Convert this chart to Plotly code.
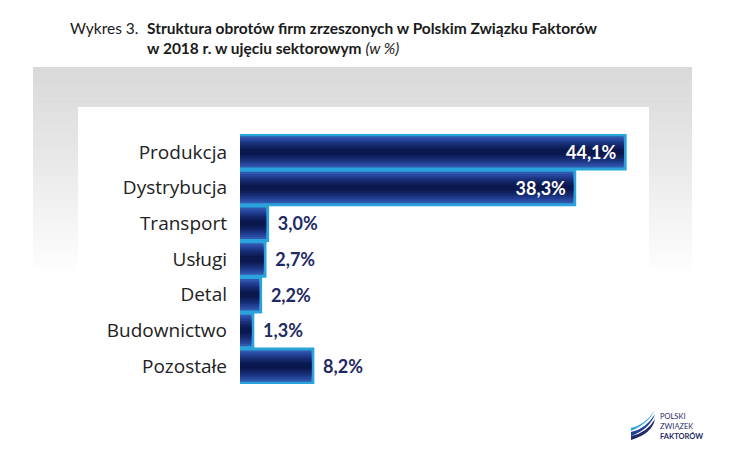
import plotly.graph_objects as go

categories = ["Produkcja", "Dystrybucja", "Transport", "Usługi", "Detal", "Budownictwo", "Pozostałe"]
values = [44.1, 38.3, 3.0, 2.7, 2.2, 1.3, 8.2]
value_labels = ["44,1%", "38,3%", "3,0%", "2,7%", "2,2%", "1,3%", "8,2%"]
inside_flags = [True, True, False, False, False, False, False]

W, H = 739, 469
L, R, T, B = 240, 64, 134, 85
PW, PH = W - L - R, H - T - B

def px(x):
    return (x - L) / PW

def py(y):
    return 1 - (y - T) / PH

def conv_path(path):
    out = []
    nums = []
    for tok in path.split():
        try:
            nums.append(float(tok))
        except ValueError:
            out.append(tok)
            continue
        if len(nums) == 2:
            out.append(f"{px(nums[0]):.5f},{py(nums[1]):.5f}")
            nums = []
    return " ".join(out)

fig = go.Figure()

# light-blue border bar
fig.add_trace(go.Bar(
    y=categories, x=values, orientation="h", width=0.88,
    marker=dict(color="#2aa3dc", line=dict(color="#2aa3dc", width=6)),
    hoverinfo="skip", showlegend=False))

# gradient layers (outer -> inner)
grad = [(0.88, "#3058ad"), (0.76, "#28499f"), (0.64, "#203c8e"), (0.52, "#19307a"),
        (0.40, "#142769"), (0.28, "#0f1f5b"), (0.16, "#0b184f")]
for w, c in grad:
    fig.add_trace(go.Bar(
        y=categories, x=values, orientation="h", width=w,
        marker=dict(color=c, line=dict(width=0)),
        hoverinfo="skip", showlegend=False))

# text trace
texts = [t + "\u00a0" if ins else "\u00a0\u00a0" + t for t, ins in zip(value_labels, inside_flags)]
fig.add_trace(go.Bar(
    y=categories, x=values, orientation="h", width=0.88,
    marker=dict(color="rgba(0,0,0,0)", line=dict(width=0)),
    text=texts,
    textposition=["inside" if f else "outside" for f in inside_flags],
    insidetextanchor="end",
    textangle=0,
    constraintext="none",
    cliponaxis=False,
    insidetextfont=dict(family="Lato", size=18, color="white"),
    outsidetextfont=dict(family="Lato", size=18, color="#1f2a66"),
    texttemplate="<b>%{text}</b>",
    hoverinfo="skip", showlegend=False))

shapes = []
# gray gradient frame
top, bot = 67, 275
n = 40
for i in range(n):
    y0 = top + (bot - top) * i / n
    y1 = top + (bot - top) * (i + 1) / n
    g = int(218 + (255 - 218) * (i / (n - 1)) ** 1.1)
    shapes.append(dict(type="rect", xref="paper", yref="paper", layer="below",
                       x0=px(33), x1=px(692), y0=py(y0), y1=py(y1 + 0.5),
                       fillcolor=f"rgb({g},{g},{g})", line=dict(width=0)))
shapes.append(dict(type="rect", xref="paper", yref="paper", layer="below",
                   x0=px(78), x1=px(649), y0=py(107), y1=py(469),
                   fillcolor="white", line=dict(width=0)))

# logo swooshes
swoosh = [
    ("M 631 428 Q 645 425 655 410 Q 648 424 631 431 Z", "#2aa3dc"),
    ("M 631 432 Q 646 429 655 414 Q 650 429 631 436 Z", "#1f3f99"),
    ("M 631 436 Q 647 433 655 419 Q 652 434 631 440 Z", "#1f2a66"),
]
for path, col in swoosh:
    shapes.append(dict(type="path", xref="paper", yref="paper", path=conv_path(path),
                       fillcolor=col, line=dict(width=0), layer="above"))

annotations = [
    dict(x=px(68), y=py(17), xref="paper", yref="paper", xanchor="left", yanchor="top",
         text="Wykres 3.", showarrow=False, align="left",
         font=dict(family="Lato", size=15.5, color="#1a1a1a")),
    dict(x=px(145), y=py(17), xref="paper", yref="paper", xanchor="left", yanchor="top",
         text="<b>Struktura obrotów firm zrzeszonych w Polskim Związku Faktorów</b><br>"
              "<b>w 2018 r. w ujęciu sektorowym</b> <i>(w %)</i>",
         showarrow=False, align="left",
         font=dict(family="Lato", size=15.5, color="#1a1a1a")),
    dict(x=px(658), y=py(410), xref="paper", yref="paper", xanchor="left", yanchor="top",
         text="POLSKI<br>ZWIĄZEK<br><b>FAKTORÓW</b>", showarrow=False, align="left",
         font=dict(family="Lato", size=7.5, color="#1f2a66")),
]

fig.update_layout(
    width=W, height=H,
    margin=dict(l=L, r=R, t=T, b=B),
    paper_bgcolor="white", plot_bgcolor="rgba(0,0,0,0)",
    barmode="overlay",
    shapes=shapes, annotations=annotations,
    xaxis=dict(range=[0, 50], visible=False, fixedrange=True),
    yaxis=dict(autorange="reversed", showgrid=False, zeroline=False, showline=False,
               ticks="", ticklabelstandoff=12, fixedrange=True,
               tickfont=dict(family="Open Sans", size=19, color="#222222")),
)

fig.write_html("out.html", config={"displayModeBar": False},
               post_script="document.body.style.margin='0';document.body.style.overflow='hidden';")
